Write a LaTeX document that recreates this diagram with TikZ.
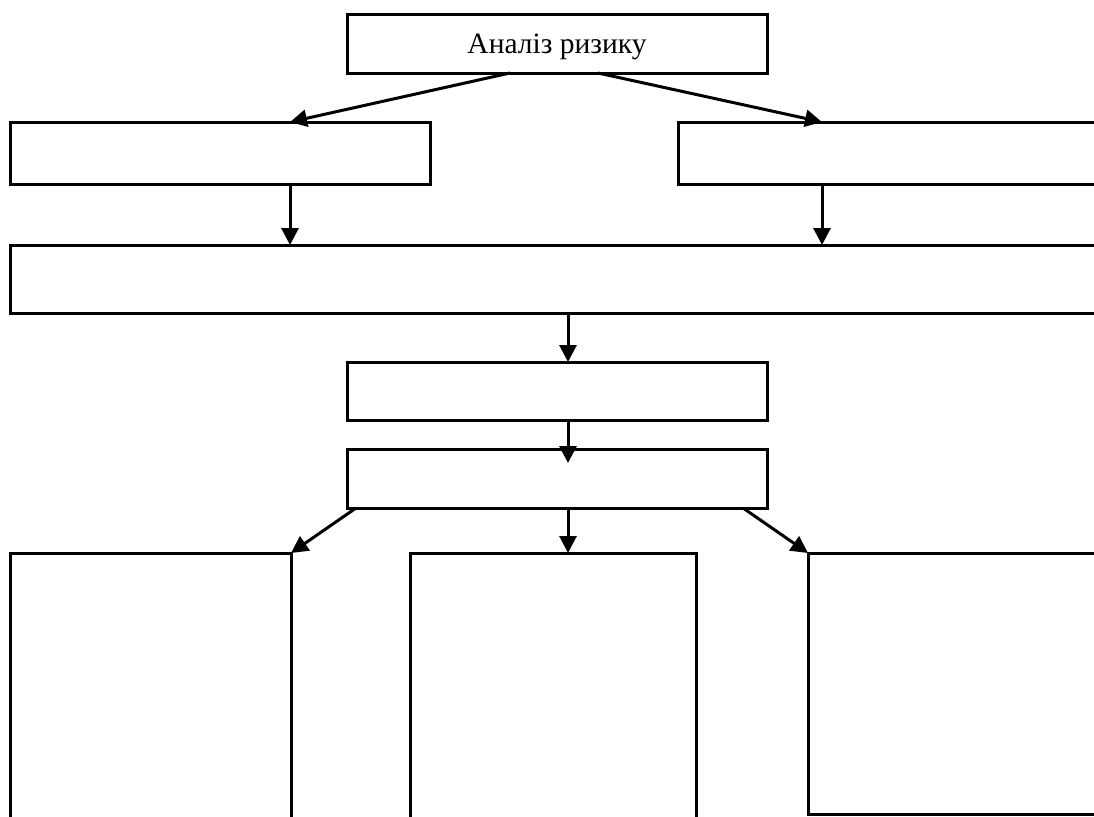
\documentclass[tikz,border=0pt]{standalone}
\usepackage{fontspec}
\setmainfont{Liberation Serif}
\usetikzlibrary{arrows.meta}
\begin{document}
\begin{tikzpicture}[x=1pt,y=-1pt,
  box/.style={draw, line width=3pt, inner sep=0pt, outer sep=0pt, anchor=north west, fill=white},
  conn/.style={line width=3pt, -{Triangle[length=17pt,width=17pt]}},
  font=\fontsize{29.5}{35}\selectfont]
\useasboundingbox (0,0) rectangle (1094,816);
\fill[white] (0,0) rectangle (1094,816);
\clip (0,0) rectangle (1094,816);
\node[box, minimum width=420pt, minimum height=58pt] (top) at (347,15) {};
\node[anchor=base] (toptext) at (557,53) {Аналіз ризику};
\node[box, minimum width=420pt, minimum height=62pt] (l2) at (10,122) {};
\node[box, minimum width=440pt, minimum height=62pt] (r2) at (678,122) {};
\node[box, minimum width=1108pt, minimum height=68pt] (wide) at (10,245) {};
\node[box, minimum width=420pt, minimum height=58pt] (b4) at (347,362) {};
\node[box, minimum width=420pt, minimum height=59pt] (b5) at (347,449) {};
\node[box, minimum width=281pt, minimum height=290pt] (bl) at (10,553) {};
\node[box, minimum width=286pt, minimum height=290pt] (bm) at (410,553) {};
\node[box, minimum width=310pt, minimum height=261pt] (br) at (808,553) {};
\coordinate (b5in) at ([xshift=11pt,yshift=-14pt]b5.north);
\draw[conn] ([xshift=-47pt]top.south) -- ([xshift=70pt]l2.north);
\draw[conn] ([xshift=41pt]top.south) -- ([xshift=-76pt]r2.north);
\draw[conn] ([xshift=70pt]l2.south) -- ([xshift=-274pt]wide.north);
\draw[conn] ([xshift=-76pt]r2.south) -- ([xshift=258pt]wide.north);
\draw[conn] ([xshift=4pt]wide.south) -- ([xshift=11pt]b4.north);
\draw[conn] ([xshift=11pt]b4.south) -- (b5in);
\draw[conn] ([xshift=11pt]b5.south) -- ([xshift=15pt]bm.north);
\draw[conn] ([xshift=-201pt]b5.south) -- (bl.north east);
\draw[conn] ([xshift=186pt]b5.south) -- (br.north west);
\end{tikzpicture}
\end{document}
